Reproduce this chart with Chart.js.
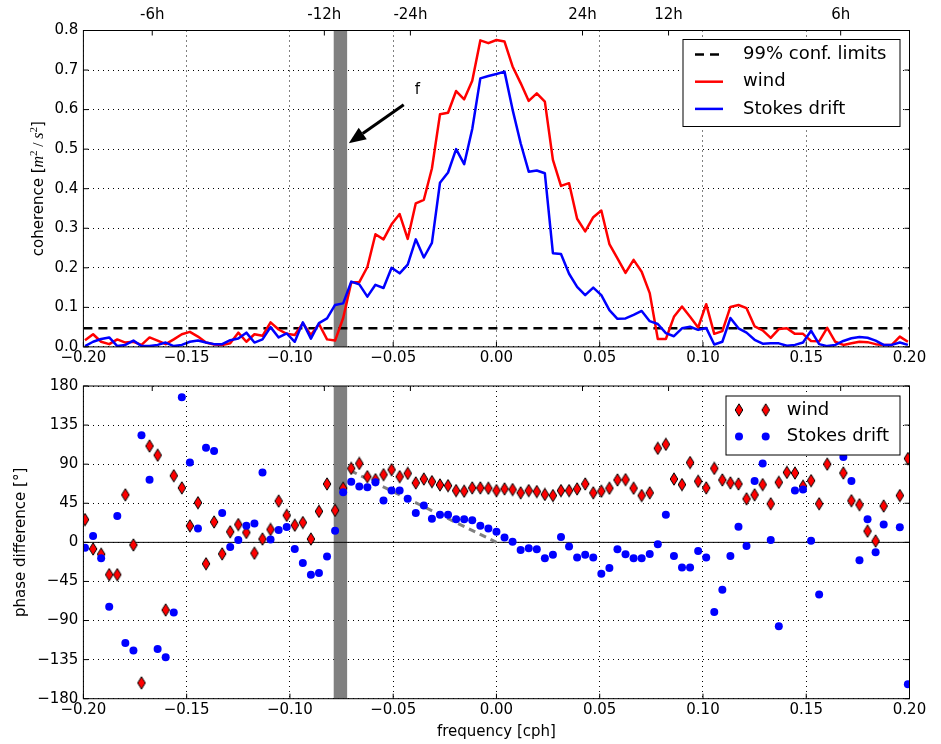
<!DOCTYPE html>
<html>
<head>
<meta charset="utf-8">
<script src="https://cdn.jsdelivr.net/npm/chart.js@4.4.0/dist/chart.umd.min.js"></script>
<style>
  html, body { margin: 0; padding: 0; background: #fff; }
  #wrap { position: relative; width: 941px; height: 744px; }
  #coh, #pha { position: absolute; left: 0; }
  #coh { top: 0; }
  #pha { top: 372px; }
</style>
</head>
<body>
<div id="wrap">
  <canvas id="coh" width="941" height="372"></canvas>
  <canvas id="pha" width="941" height="372"></canvas>
</div>
<script>
// frequency grid [cph]
const freq = [
  -0.19922, -0.19531, -0.19141, -0.18750, -0.18359, -0.17969, -0.17578, -0.17188, -0.16797, -0.16406,
  -0.16016, -0.15625, -0.15234, -0.14844, -0.14453, -0.14063, -0.13672, -0.13281, -0.12891, -0.12500,
  -0.12109, -0.11719, -0.11328, -0.10938, -0.10547, -0.10156, -0.09766, -0.09375, -0.08984, -0.08594,
  -0.08203, -0.07813, -0.07422, -0.07031, -0.06641, -0.06250, -0.05859, -0.05469, -0.05078, -0.04688,
  -0.04297, -0.03906, -0.03516, -0.03125, -0.02734, -0.02344, -0.01953, -0.01563, -0.01172, -0.00781,
  -0.00391, 0.0, 0.00391, 0.00781, 0.01172, 0.01563, 0.01953, 0.02344, 0.02734, 0.03125,
  0.03516, 0.03906, 0.04297, 0.04688, 0.05078, 0.05469, 0.05859, 0.06250, 0.06641, 0.07031,
  0.07422, 0.07813, 0.08203, 0.08594, 0.08984, 0.09375, 0.09766, 0.10156, 0.10547, 0.10938,
  0.11328, 0.11719, 0.12109, 0.12500, 0.12891, 0.13281, 0.13672, 0.14063, 0.14453, 0.14844,
  0.15234, 0.15625, 0.16016, 0.16406, 0.16797, 0.17188, 0.17578, 0.17969, 0.18359, 0.18750,
  0.19141, 0.19531, 0.19922
];

// coherence
const cohWind = [
  0.017, 0.032, 0.013, 0.007, 0.019, 0.011, 0.013, 0.005, 0.024, 0.016,
  0.007, 0.019, 0.032, 0.038, 0.026, 0.011, 0.006, 0.005, 0.009, 0.036,
  0.013, 0.032, 0.028, 0.062, 0.044, 0.033, 0.030, 0.060, 0.030, 0.058,
  0.019, 0.016, 0.073, 0.163, 0.164, 0.202, 0.285, 0.272, 0.310, 0.336,
  0.273, 0.363, 0.372, 0.451, 0.588, 0.592, 0.647, 0.626, 0.673, 0.775,
  0.768, 0.776, 0.772, 0.709, 0.667, 0.622, 0.641, 0.620, 0.473, 0.407,
  0.414, 0.324, 0.292, 0.328, 0.345, 0.260, 0.224, 0.187, 0.220, 0.190,
  0.136, 0.020, 0.020, 0.076, 0.102, 0.076, 0.049, 0.108, 0.033, 0.040,
  0.101, 0.106, 0.098, 0.052, 0.042, 0.023, 0.045, 0.047, 0.033, 0.033,
  0.015, 0.014, 0.048, 0.013, 0.005, 0.009, 0.013, 0.012, 0.007, 0.005,
  0.005, 0.026, 0.013
];
const cohStokes = [
  0.002, 0.013, 0.020, 0.024, 0.002, 0.005, 0.016, 0.002, 0.002, 0.005,
  0.011, 0.002, 0.005, 0.013, 0.016, 0.011, 0.007, 0.007, 0.017, 0.021,
  0.036, 0.011, 0.019, 0.050, 0.024, 0.034, 0.013, 0.062, 0.021, 0.060,
  0.072, 0.106, 0.110, 0.165, 0.158, 0.127, 0.157, 0.149, 0.200, 0.186,
  0.208, 0.272, 0.226, 0.263, 0.415, 0.441, 0.500, 0.462, 0.551, 0.679,
  0.685, 0.690, 0.696, 0.600, 0.515, 0.443, 0.446, 0.439, 0.237, 0.235,
  0.185, 0.152, 0.131, 0.150, 0.131, 0.093, 0.071, 0.072, 0.081, 0.091,
  0.065, 0.058, 0.035, 0.027, 0.047, 0.051, 0.043, 0.048, 0.006, 0.013,
  0.073, 0.047, 0.036, 0.018, 0.008, 0.009, 0.009, 0.003, 0.005, 0.011,
  0.041, 0.007, 0.002, 0.005, 0.015, 0.022, 0.025, 0.023, 0.016, 0.005,
  0.005, 0.011, 0.005
];
const conf99 = 0.047;

// phase difference [deg]; null = hidden behind the legend
const phaseWind = [
  26.2, -7.6, -13.7, -37.2, -37.2, 54.7, -3.0, -161.8, 110.9, 100.3,
  -77.9, 76.7, 62.7, 19.0, 45.6, -24.7, 23.5, -13.3, 12.2, 20.5,
  11.4, -12.5, 3.8, 14.8, 47.5, 31.1, 19.7, 22.8, 3.8, 35.7,
  67.2, 36.8, 62.3, 85.1, 90.8, 75.6, 72.2, 77.9, 83.6, 75.6,
  79.4, 68.4, 72.9, 69.9, 66.1, 65.3, 59.6, 58.9, 62.7, 62.7,
  62.3, 59.6, 61.5, 60.8, 57.0, 59.6, 58.5, 55.1, 53.9, 59.6,
  59.6, 61.5, 67.2, 57.0, 58.9, 62.3, 71.8, 72.2, 62.3, 53.9,
  57.0, 108.2, 112.8, 72.9, 66.5, 91.9, 70.3, 62.7, 85.1, 71.8,
  68.4, 67.2, 50.1, 54.7, 66.5, 44.4, 69.1, 80.5, 79.8, 64.6,
  71.0, 44.4, 90.0, null, 79.8, 47.9, 43.3, 12.9, 1.5, 41.8,
  null, 53.9, 96.5
];
const phaseStokes = [
  -6.1, 7.2, -18.2, -74.1, 30.4, -115.8, -124.6, 123.4, 72.2, -122.7,
  -132.2, -80.9, 167.1, 91.9, 16.0, 109.0, 105.2, 33.8, -5.3, 2.7,
  19.0, 21.6, 80.5, 3.4, 14.1, 17.8, -7.6, -23.9, -37.2, -35.3,
  -16.3, 13.3, 57.7, 69.9, 64.2, 63.4, 69.1, 48.2, 59.6, 59.6,
  50.1, 33.8, 42.5, 27.3, 31.9, 31.9, 26.6, 26.6, 25.4, 19.0,
  16.0, 12.2, 5.7, 0.8, -8.7, -6.8, -8.0, -18.2, -14.4, 6.1,
  -4.9, -17.5, -14.4, -17.5, -36.1, -29.6, -8.0, -13.7, -18.2, -18.2,
  -13.3, -2.3, 31.9, -15.6, -28.9, -28.9, -9.9, -17.5, -80.1, -54.7,
  -15.6, 17.9, -4.2, 70.6, 90.8, 2.7, -96.5, null, 59.6, 60.8,
  1.9, -60.0, null, null, 98.4, 70.6, -20.5, 26.6, -11.4, 20.5,
  null, 17.5, -163.3
];
// reference slope (grey dashed)
const slopeF = [-0.0707, 0.0];
const slopePhase = [82.5, 0.0];

// band marking -f, and period ticks on top
const bandF = [-0.0788, -0.0723];
const hourPos = [-1 / 6, -1 / 12, -1 / 24, 1 / 24, 1 / 12, 1 / 6];
const hourLabels = ["-6h", "-12h", "-24h", "24h", "12h", "6h"];

Chart.defaults.font.family = "'DejaVu Sans', sans-serif";
Chart.defaults.font.size = 15;
Chart.defaults.color = "#000";

const SANS = "'DejaVu Sans', sans-serif";
const fmt = (v, d) => (v < -1e-9 ? "\u2212" : "") + Math.abs(v).toFixed(d);
const pts = (xs, ys) => xs.map((x, i) => ({ x, y: ys[i] })).filter((p) => p.y !== null);

function drawBand(chart) {
  const { ctx, chartArea: a, scales: { x } } = chart;
  const l = x.getPixelForValue(bandF[0]);
  const r = x.getPixelForValue(bandF[1]);
  ctx.save();
  ctx.fillStyle = "#808080";
  ctx.fillRect(l, a.top, r - l, a.bottom - a.top);
  ctx.restore();
}

function frameAndTicks(chart) {
  const { ctx, chartArea: a, scales: { x, y } } = chart;
  const L = 5;
  ctx.save();
  ctx.strokeStyle = "#000";
  ctx.lineWidth = 1;
  ctx.setLineDash([]);
  ctx.beginPath();
  y.ticks.forEach((t) => {
    const py = y.getPixelForValue(t.value);
    ctx.moveTo(a.left, py); ctx.lineTo(a.left + L, py);
    ctx.moveTo(a.right, py); ctx.lineTo(a.right - L, py);
  });
  x.ticks.forEach((t) => {
    const px = x.getPixelForValue(t.value);
    ctx.moveTo(px, a.bottom); ctx.lineTo(px, a.bottom - L);
  });
  hourPos.forEach((v) => {
    const px = x.getPixelForValue(v);
    ctx.moveTo(px, a.top); ctx.lineTo(px, a.top + L);
  });
  ctx.stroke();
  ctx.strokeRect(a.left, a.top, a.right - a.left, a.bottom - a.top);
  ctx.restore();
}

function legendFrame(ctx, x0, y0, w, h) {
  ctx.fillStyle = "#fff";
  ctx.fillRect(x0, y0, w, h);
  ctx.strokeStyle = "#000";
  ctx.lineWidth = 1;
  ctx.setLineDash([]);
  ctx.strokeRect(x0, y0, w, h);
}

// thin red diamond with black edge, like matplotlib 'd'
function diamond() {
  const c = document.createElement("canvas");
  c.width = 10; c.height = 14;
  const g = c.getContext("2d");
  g.beginPath();
  g.moveTo(5, 0.8); g.lineTo(8.8, 7); g.lineTo(5, 13.2); g.lineTo(1.2, 7);
  g.closePath();
  g.fillStyle = "#ff0000"; g.fill();
  g.lineWidth = 1; g.strokeStyle = "#000"; g.stroke();
  return c;
}
const diamondImg = diamond();

const cohDecor = {
  id: "cohDecor",
  beforeDatasetsDraw(chart) { drawBand(chart); },
  afterDatasetsDraw(chart) {
    const { ctx, chartArea: a, scales: { x, y } } = chart;
    frameAndTicks(chart);

    // arrow pointing at the band
    const x0 = x.getPixelForValue(-0.0449), y0 = y.getPixelForValue(0.612);
    const x1 = x.getPixelForValue(-0.0715), y1 = y.getPixelForValue(0.515);
    const ang = Math.atan2(y1 - y0, x1 - x0);
    const hl = 17, hw = 7;
    const bx = x1 - hl * Math.cos(ang), by = y1 - hl * Math.sin(ang);
    ctx.save();
    ctx.strokeStyle = "#000"; ctx.lineWidth = 3;
    ctx.beginPath(); ctx.moveTo(x0, y0); ctx.lineTo(bx, by); ctx.stroke();
    ctx.beginPath();
    ctx.moveTo(x1, y1);
    ctx.lineTo(bx + hw * Math.sin(ang), by - hw * Math.cos(ang));
    ctx.lineTo(bx - hw * Math.sin(ang), by + hw * Math.cos(ang));
    ctx.closePath();
    ctx.fillStyle = "#000"; ctx.fill();
    ctx.font = "15px " + SANS;
    ctx.textAlign = "center"; ctx.textBaseline = "alphabetic";
    ctx.fillText("f", x.getPixelForValue(-0.0383), y.getPixelForValue(0.64));

    // y title with math part
    const segs = [
      { t: "coherence [", f: "15px " + SANS, dy: 0 },
      { t: "m", f: "italic 16px 'Liberation Serif', serif", dy: 0 },
      { t: "2", f: "11px 'Liberation Serif', serif", dy: -6 },
      { t: " / ", f: "15px 'Liberation Serif', serif", dy: 0 },
      { t: "s", f: "italic 16px 'Liberation Serif', serif", dy: 0 },
      { t: "2", f: "11px 'Liberation Serif', serif", dy: -6 },
      { t: "]", f: "15px " + SANS, dy: 0 },
    ];
    let total = 0;
    segs.forEach((s) => { ctx.font = s.f; s.w = ctx.measureText(s.t).width; total += s.w; });
    ctx.translate(42.5, (a.top + a.bottom) / 2);
    ctx.rotate(-Math.PI / 2);
    ctx.textAlign = "left";
    let cx = -total / 2;
    segs.forEach((s) => { ctx.font = s.f; ctx.fillText(s.t, cx, s.dy); cx += s.w; });
    ctx.restore();

    // legend
    ctx.save();
    const w = 217, h = 87;
    const lx = a.right - 9.5 - w, ly = a.top + 9;
    legendFrame(ctx, lx, ly, w, h);
    [2, 1, 0].forEach((di, row) => {
      const ds = chart.data.datasets[di];
      const ry = ly + 15 + row * 27.2;
      ctx.strokeStyle = ds.borderColor;
      ctx.lineWidth = ds.borderWidth;
      ctx.setLineDash(ds.borderDash || []);
      ctx.beginPath(); ctx.moveTo(lx + 12, ry); ctx.lineTo(lx + 40, ry); ctx.stroke();
      ctx.fillStyle = "#000";
      ctx.font = "18px " + SANS;
      ctx.textAlign = "left"; ctx.textBaseline = "middle";
      ctx.fillText(ds.label, lx + 60, ry);
    });
    ctx.restore();
  },
};

const phaDecor = {
  id: "phaDecor",
  beforeDatasetsDraw(chart) { drawBand(chart); },
  afterDatasetsDraw(chart) {
    const { ctx, chartArea: a } = chart;
    frameAndTicks(chart);
    ctx.save();
    const w = 174, h = 59;
    const lx = a.right - 9.5 - w, ly = a.top + 10;
    legendFrame(ctx, lx, ly, w, h);
    const r1 = ly + 14, r2 = ly + 40.6;
    [13, 39.7].forEach((dx) => {
      ctx.drawImage(diamondImg, lx + dx - 5, r1 - 7);
      ctx.beginPath(); ctx.arc(lx + dx, r2, 4, 0, Math.PI * 2);
      ctx.fillStyle = "#0000ff"; ctx.fill();
    });
    ctx.fillStyle = "#000";
    ctx.font = "18px " + SANS;
    ctx.textAlign = "left"; ctx.textBaseline = "middle";
    ctx.fillText("wind", lx + 60.7, r1);
    ctx.fillText("Stokes drift", lx + 60.7, r2);
    ctx.restore();
  },
};

const gridDotted = { color: "#000", lineWidth: 1, drawTicks: false };
const borderDotted = { display: false, dash: [1, 4] };

new Chart(document.getElementById("coh"), {
  type: "line",
  data: {
    datasets: [
      { label: "Stokes drift", data: pts(freq, cohStokes), borderColor: "#0000ff", borderWidth: 2.5, order: 0 },
      { label: "wind", data: pts(freq, cohWind), borderColor: "#ff0000", borderWidth: 2.5, order: 1 },
      {
        label: "99% conf. limits",
        data: [{ x: -0.2, y: conf99 }, { x: 0.2, y: conf99 }],
        borderColor: "#000", borderWidth: 2.5, borderDash: [9, 6], order: 2,
      },
    ],
  },
  options: {
    responsive: false,
    animation: false,
    datasets: { line: { pointRadius: 0, tension: 0, clip: 0, borderJoinStyle: "round" } },
    layout: { padding: { top: 0, right: 31.5, bottom: 0, left: 0 } },
    plugins: { legend: { display: false }, tooltip: { enabled: false } },
    scales: {
      x: {
        type: "linear", position: "bottom", min: -0.2, max: 0.2,
        ticks: { stepSize: 0.05, padding: 2, autoSkip: false, maxRotation: 0, callback: (v) => fmt(v, 2) },
        grid: gridDotted, border: borderDotted,
        afterFit: (s) => { s.height = 25.1; },
      },
      x2: {
        type: "linear", position: "top", min: -0.2, max: 0.2,
        afterBuildTicks: (s) => { s.ticks = hourPos.map((v) => ({ value: v })); },
        ticks: { padding: 6, autoSkip: false, maxRotation: 0, callback: (v, i) => hourLabels[i] },
        grid: { display: false, drawTicks: false }, border: { display: false },
        afterFit: (s) => { s.height = 30.5; },
      },
      y: {
        min: 0, max: 0.8,
        ticks: { stepSize: 0.1, padding: 5, callback: (v) => v.toFixed(1) },
        grid: gridDotted, border: borderDotted,
        afterFit: (s) => { s.width = 83.4; },
      },
    },
  },
  plugins: [cohDecor],
});

new Chart(document.getElementById("pha"), {
  type: "scatter",
  data: {
    datasets: [
      {
        label: "Stokes drift", data: pts(freq, phaseStokes), order: 0,
        pointRadius: 4, pointBackgroundColor: "#0000ff", pointBorderWidth: 0,
      },
      {
        label: "wind", data: pts(freq, phaseWind), order: 1,
        pointStyle: diamondImg, pointRadius: 5,
      },
      {
        type: "line", label: "slope", data: pts(slopeF, slopePhase), order: 2,
        borderColor: "#808080", borderWidth: 3, borderDash: [7, 5], pointRadius: 0, tension: 0,
      },
      {
        type: "line", label: "zero", data: [{ x: -0.2, y: 0 }, { x: 0.2, y: 0 }], order: 3,
        borderColor: "#000", borderWidth: 1, pointRadius: 0,
      },
    ],
  },
  options: {
    responsive: false,
    animation: false,
    datasets: { scatter: { clip: 0 }, line: { clip: 0 } },
    layout: { padding: { top: 10.8, right: 31.5, bottom: 0, left: 0 } },
    plugins: { legend: { display: false }, tooltip: { enabled: false } },
    scales: {
      x: {
        type: "linear", position: "bottom", min: -0.2, max: 0.2,
        ticks: { stepSize: 0.05, padding: 2, autoSkip: false, maxRotation: 0, callback: (v) => fmt(v, 2) },
        grid: gridDotted, border: borderDotted,
        title: { display: true, text: "frequency [cph]", padding: { top: 0, bottom: 3 } },
        afterFit: (s) => { s.height = 45.3; },
      },
      y: {
        min: -180, max: 180,
        ticks: { stepSize: 45, padding: 5, callback: (v) => fmt(v, 0) },
        grid: gridDotted, border: borderDotted,
        title: { display: true, text: "phase difference [\u00b0]", padding: { top: 12, bottom: 0 } },
        afterFit: (s) => { s.width = 83.4; },
      },
    },
  },
  plugins: [phaDecor],
});
</script>
</body>
</html>
